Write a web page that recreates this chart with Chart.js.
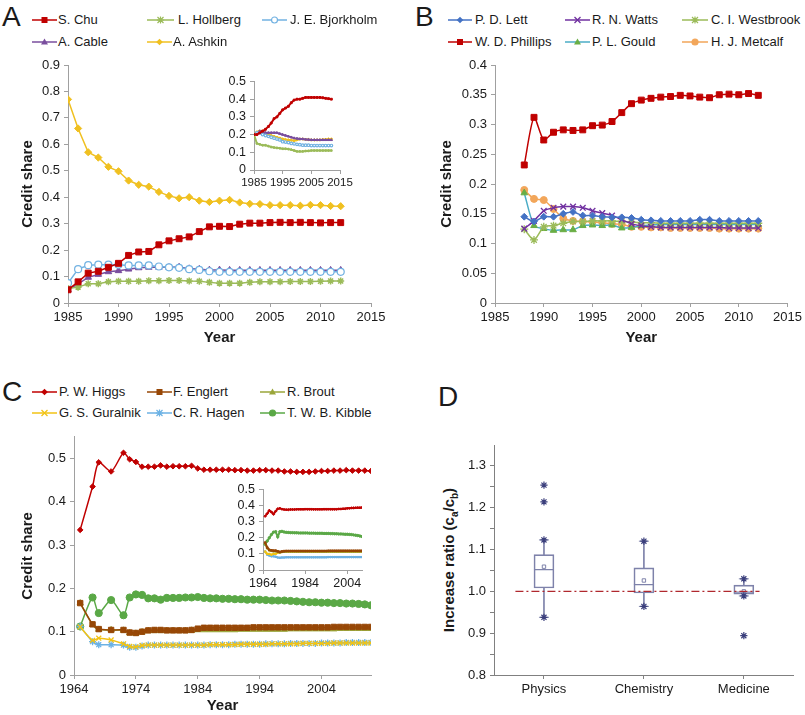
<!DOCTYPE html>
<html><head><meta charset="utf-8">
<script src="https://cdn.jsdelivr.net/npm/chart.js@4.4.1/dist/chart.umd.min.js"></script>
<style>
body{margin:0;background:#fff;width:805px;height:715px;position:relative;overflow:hidden;font-family:'Liberation Sans',Arial,sans-serif;color:#1a1a1a;}
canvas{position:absolute;}
.plbl{position:absolute;font-size:28px;line-height:28px;}
.lg{position:absolute;font-size:13px;line-height:14px;white-space:nowrap;}
.lgs{position:absolute;}
#dtitle{position:absolute;font-weight:bold;font-size:15px;white-space:nowrap;transform:translate(-50%,-50%) rotate(-90deg);left:450px;top:560px;}
#dtitle sub{font-size:10px;}
</style></head><body>
<div class="plbl" style="left:2px;top:3px">A</div>
<div class="plbl" style="left:415px;top:3px">B</div>
<div class="plbl" style="left:2px;top:378px">C</div>
<div class="plbl" style="left:438px;top:383px">D</div>
<div id="dtitle">Increase ratio (c<sub>a</sub>/c<sub>b</sub>)</div>
<script>
// ================= DATA =================
// Panel A
const aYears = [1985,1986,1987,1988,1989,1990,1991,1992,1993,1994,1995,1996,1997,1998,1999,2000,2001,2002,2003,2004,2005,2006,2007,2008,2009,2010,2011,2012];
const aXTicks = [1985,1990,1995,2000,2005,2010,2015];
const aYTicks = [0,0.1,0.2,0.3,0.4,0.5,0.6,0.7,0.8,0.9];
const aNames = ['S. Chu','L. Hollberg','J. E. Bjorkholm','A. Cable','A. Ashkin'];
const aChu = [0.050,0.080,0.113,0.120,0.135,0.150,0.180,0.193,0.195,0.220,0.235,0.243,0.250,0.270,0.288,0.290,0.289,0.298,0.302,0.302,0.304,0.305,0.304,0.305,0.304,0.303,0.304,0.304];
const aHollberg = [0.055,0.060,0.073,0.073,0.080,0.082,0.082,0.082,0.084,0.084,0.085,0.085,0.083,0.082,0.078,0.075,0.075,0.075,0.078,0.080,0.080,0.080,0.081,0.081,0.081,0.082,0.083,0.083];
const aBjorkholm = [0.075,0.128,0.143,0.145,0.145,0.145,0.142,0.142,0.142,0.138,0.135,0.133,0.128,0.125,0.120,0.118,0.118,0.118,0.118,0.118,0.118,0.118,0.118,0.118,0.118,0.118,0.118,0.118];
const aCable = [0.050,0.072,0.097,0.108,0.118,0.122,0.128,0.133,0.135,0.135,0.135,0.136,0.130,0.128,0.125,0.125,0.124,0.124,0.124,0.124,0.124,0.124,0.124,0.124,0.124,0.124,0.124,0.124];
const aAshkin = [0.770,0.660,0.570,0.550,0.515,0.498,0.463,0.447,0.440,0.420,0.405,0.396,0.400,0.387,0.382,0.387,0.390,0.380,0.375,0.374,0.370,0.370,0.370,0.368,0.371,0.370,0.367,0.366];
// Panel A inset
const aInXTicks = [1985,1995,2005,2015];
const aInYTicks = [0,0.1,0.2,0.3,0.4,0.5];
const aInChu = [0.200,0.200,0.210,0.220,0.230,0.245,0.265,0.290,0.300,0.320,0.340,0.350,0.360,0.380,0.395,0.400,0.400,0.405,0.410,0.410,0.410,0.410,0.410,0.410,0.408,0.405,0.403,0.400];
const aInHollberg = [0.200,0.150,0.145,0.140,0.140,0.135,0.130,0.127,0.125,0.123,0.120,0.120,0.118,0.115,0.110,0.105,0.105,0.105,0.107,0.108,0.110,0.110,0.110,0.110,0.110,0.110,0.110,0.110];
const aInBjorkholm = [0.200,0.210,0.210,0.200,0.195,0.190,0.185,0.180,0.175,0.170,0.160,0.158,0.155,0.150,0.148,0.145,0.143,0.140,0.140,0.140,0.138,0.138,0.138,0.138,0.138,0.138,0.138,0.138];
const aInCable = [0.200,0.210,0.220,0.215,0.210,0.210,0.210,0.210,0.210,0.205,0.200,0.195,0.190,0.185,0.180,0.178,0.175,0.175,0.173,0.172,0.170,0.170,0.170,0.170,0.170,0.170,0.170,0.170];
const aInAshkin = [0.200,0.215,0.220,0.220,0.210,0.200,0.195,0.190,0.185,0.180,0.175,0.172,0.170,0.168,0.165,0.170,0.175,0.175,0.173,0.172,0.170,0.170,0.170,0.170,0.172,0.173,0.175,0.175];

// Panel B
const bYears = [1988,1989,1990,1991,1992,1993,1994,1995,1996,1997,1998,1999,2000,2001,2002,2003,2004,2005,2006,2007,2008,2009,2010,2011,2012];
const bXTicks = [1985,1990,1995,2000,2005,2010,2015];
const bYTicks = [0,0.05,0.1,0.15,0.2,0.25,0.3,0.35,0.4];
const bNames = ['P. D. Lett','R. N. Watts','C. I. Westbrook','W. D. Phillips','P. L. Gould','H. J. Metcalf'];
const bLett = [0.145,0.137,0.145,0.145,0.150,0.153,0.147,0.147,0.145,0.144,0.144,0.143,0.140,0.139,0.138,0.138,0.138,0.138,0.140,0.140,0.138,0.138,0.138,0.138,0.138];
const bWatts = [0.125,0.138,0.155,0.160,0.162,0.162,0.160,0.155,0.151,0.147,0.140,0.133,0.130,0.128,0.127,0.127,0.127,0.127,0.127,0.127,0.127,0.126,0.126,0.126,0.126];
const bWestbrook = [0.124,0.106,0.128,0.130,0.134,0.137,0.137,0.138,0.138,0.138,0.137,0.136,0.135,0.135,0.134,0.134,0.134,0.134,0.134,0.134,0.134,0.134,0.134,0.134,0.134];
const bPhillips = [0.232,0.312,0.274,0.287,0.291,0.290,0.291,0.298,0.299,0.305,0.320,0.335,0.341,0.344,0.346,0.347,0.349,0.348,0.346,0.345,0.350,0.351,0.350,0.352,0.349];
const bGould = [0.185,0.130,0.125,0.122,0.123,0.123,0.130,0.131,0.130,0.131,0.126,0.127,0.130,0.131,0.132,0.132,0.132,0.132,0.132,0.132,0.132,0.132,0.132,0.132,0.132];
const bMetcalf = [0.190,0.175,0.173,0.158,0.142,0.138,0.137,0.136,0.135,0.133,0.132,0.128,0.128,0.127,0.127,0.126,0.126,0.126,0.126,0.126,0.125,0.125,0.125,0.125,0.125];

// Panel C
const cYears = [1965,1967,1968,1970,1972,1973,1974,1975,1976,1977,1978,1979,1980,1981,1982,1983,1984,1985,1986,1987,1988,1989,1990,1991,1992,1993,1994,1995,1996,1997,1998,1999,2000,2001,2002,2003,2004,2005,2006,2007,2008,2009,2010,2011,2012];
const cXTicks = [1964,1974,1984,1994,2004];
const cYTicks = [0,0.1,0.2,0.3,0.4,0.5];
const cNames = ['P. W. Higgs','F. Englert','R. Brout','G. S. Guralnik','C. R. Hagen','T. W. B. Kibble'];
const cHiggs = [0.335,0.435,0.491,0.470,0.513,0.498,0.492,0.481,0.481,0.481,0.484,0.481,0.482,0.482,0.482,0.483,0.477,0.474,0.474,0.474,0.474,0.474,0.473,0.473,0.472,0.472,0.473,0.473,0.472,0.472,0.470,0.470,0.469,0.469,0.469,0.470,0.471,0.471,0.472,0.472,0.473,0.472,0.472,0.472,0.471];
const cEnglert = [0.166,0.117,0.106,0.104,0.104,0.098,0.097,0.100,0.103,0.104,0.104,0.103,0.103,0.103,0.103,0.104,0.107,0.109,0.109,0.109,0.109,0.109,0.109,0.109,0.109,0.110,0.110,0.110,0.110,0.110,0.110,0.110,0.110,0.110,0.110,0.110,0.110,0.110,0.111,0.111,0.111,0.111,0.111,0.111,0.111];
const cBrout = [0.166,0.116,0.105,0.104,0.103,0.097,0.096,0.099,0.102,0.102,0.102,0.102,0.102,0.102,0.102,0.103,0.104,0.104,0.104,0.104,0.104,0.104,0.104,0.105,0.105,0.105,0.105,0.105,0.105,0.105,0.105,0.106,0.106,0.106,0.106,0.106,0.106,0.106,0.106,0.107,0.107,0.107,0.107,0.107,0.107];
const cGuralnik = [0.111,0.080,0.085,0.081,0.072,0.066,0.065,0.068,0.069,0.069,0.069,0.069,0.069,0.069,0.069,0.069,0.069,0.069,0.070,0.070,0.070,0.070,0.070,0.071,0.071,0.071,0.071,0.071,0.072,0.072,0.072,0.072,0.072,0.073,0.073,0.073,0.073,0.073,0.074,0.074,0.074,0.074,0.074,0.074,0.074];
const cHagen = [0.112,0.077,0.070,0.070,0.069,0.064,0.064,0.067,0.069,0.069,0.069,0.069,0.069,0.069,0.069,0.069,0.069,0.069,0.070,0.070,0.070,0.070,0.071,0.071,0.071,0.071,0.071,0.072,0.072,0.072,0.072,0.073,0.073,0.073,0.073,0.073,0.074,0.074,0.074,0.074,0.075,0.075,0.075,0.075,0.075];
const cKibble = [0.112,0.179,0.143,0.173,0.138,0.179,0.186,0.185,0.177,0.177,0.174,0.178,0.178,0.178,0.179,0.179,0.180,0.178,0.177,0.177,0.176,0.176,0.175,0.175,0.174,0.174,0.174,0.173,0.172,0.172,0.172,0.171,0.170,0.169,0.168,0.168,0.167,0.167,0.166,0.166,0.165,0.165,0.164,0.163,0.161];
// Panel C inset
const cInYears = [1965,1966,1967,1968,1969,1970,1971,1972,1973,1974,1975,1976,1977,1978,1979,1980,1981,1982,1983,1984,1985,1986,1987,1988,1989,1990,1991,1992,1993,1994,1995,1996,1997,1998,1999,2000,2001,2002,2003,2004,2005,2006,2007,2008,2009,2010,2011];
const cInXTicks = [1964,1984,2004];
const cInYTicks = [0,0.1,0.2,0.3,0.4,0.5];
const cInHiggs = [0.334,0.350,0.370,0.360,0.347,0.365,0.380,0.383,0.378,0.376,0.375,0.375,0.376,0.376,0.376,0.377,0.377,0.377,0.377,0.378,0.378,0.378,0.378,0.377,0.377,0.377,0.377,0.377,0.378,0.378,0.378,0.378,0.378,0.378,0.378,0.379,0.379,0.380,0.381,0.383,0.384,0.385,0.385,0.386,0.387,0.387,0.388];
const cInEnglert = [0.170,0.140,0.125,0.122,0.120,0.120,0.116,0.112,0.115,0.117,0.118,0.118,0.118,0.118,0.118,0.118,0.118,0.118,0.118,0.118,0.118,0.118,0.118,0.118,0.118,0.118,0.118,0.118,0.118,0.118,0.119,0.119,0.119,0.119,0.119,0.119,0.119,0.119,0.119,0.119,0.119,0.119,0.119,0.119,0.119,0.119,0.119];
const cInBrout = [0.165,0.135,0.122,0.118,0.116,0.116,0.112,0.109,0.112,0.114,0.115,0.115,0.115,0.115,0.115,0.115,0.115,0.115,0.115,0.115,0.115,0.115,0.115,0.115,0.115,0.115,0.115,0.115,0.115,0.115,0.115,0.115,0.115,0.115,0.115,0.115,0.115,0.115,0.115,0.115,0.115,0.115,0.115,0.115,0.115,0.115,0.115];
const cInGuralnik = [0.115,0.100,0.100,0.095,0.100,0.100,0.108,0.110,0.112,0.113,0.114,0.114,0.114,0.114,0.114,0.114,0.114,0.114,0.114,0.114,0.114,0.114,0.114,0.114,0.114,0.114,0.114,0.114,0.114,0.114,0.114,0.114,0.114,0.114,0.114,0.114,0.114,0.114,0.114,0.114,0.114,0.114,0.114,0.114,0.114,0.114,0.114];
const cInHagen = [0.115,0.095,0.090,0.085,0.085,0.082,0.078,0.076,0.078,0.078,0.079,0.079,0.079,0.079,0.079,0.079,0.079,0.079,0.079,0.079,0.079,0.079,0.079,0.079,0.079,0.079,0.079,0.079,0.079,0.079,0.080,0.080,0.080,0.080,0.080,0.080,0.080,0.080,0.080,0.080,0.080,0.080,0.080,0.080,0.080,0.080,0.080];
const cInKibble = [0.160,0.180,0.200,0.220,0.235,0.238,0.206,0.238,0.240,0.236,0.234,0.233,0.232,0.232,0.231,0.231,0.230,0.230,0.230,0.230,0.230,0.229,0.229,0.229,0.228,0.228,0.228,0.228,0.227,0.227,0.227,0.226,0.226,0.225,0.225,0.224,0.224,0.223,0.222,0.222,0.221,0.220,0.218,0.216,0.214,0.211,0.208];

// Panel D
const dCategories = ['Physics','Chemistry','Medicine'];
const dQ1 = [1.008,0.996,0.993];
const dQ3 = [1.088,1.056,1.015];
const dMedian = [1.052,1.016,0.998];
const dMean = [1.059,1.026,1.000];
const dWhiskerLow = [0.938,0.964,0.989];
const dWhiskerHigh = [1.123,1.120,1.030];
const dOutlierCats = ['Physics','Physics','Medicine'];
const dOutlierVals = [1.214,1.254,0.894];
const dRefValue = 1.0;
const dMajorTicks = [0.8,0.9,1.0,1.1,1.2,1.3];
const dMinorTicks = [0.85,0.95,1.05,1.15,1.25];

// ================= STYLES =================
const FONT = "'Liberation Sans', Arial, sans-serif";
Chart.defaults.font.family = FONT;
Chart.defaults.font.size = 13;
Chart.defaults.color = '#1a1a1a';
Chart.defaults.animation = false;
Chart.defaults.plugins.legend.display = false;
Chart.defaults.plugins.tooltip.enabled = false;
const AXIS = '#a0a0a0';

const aStyles = [
  {color:'#C00000', point:'rect', r:4.2},
  {color:'#9BBB59', point:'star', r:3.5, pbw:1.5},
  {color:'#72B2E2', point:'circle', r:3.5, fill:'#ffffff', pbw:1.2},
  {color:'#7A4E9E', point:'triangle', r:3.8},
  {color:'#F0C020', point:'rectRot', r:3.6}
];
const bStyles = [
  {color:'#4472C4', point:'rectRot', r:3.4},
  {color:'#7030A0', point:'crossRot', r:4, pbw:1.3},
  {color:'#9BBB59', point:'star', r:4, pbw:1.3},
  {color:'#C00000', point:'rect', r:4.2},
  {color:'#6AAE45', line:'#4BACC6', point:'triangle', r:3.8},
  {color:'#F2A65A', point:'circle', r:3.5}
];
const cStyles = [
  {color:'#C00000', point:'rectRot', r:2.8},
  {color:'#974706', point:'rect', r:3.8},
  {color:'#9AA63A', point:'triangle', r:3.6},
  {color:'#F2C314', point:'crossRot', r:3.5, pbw:1.3},
  {color:'#6CB2E4', point:'star', r:3.5, pbw:1.3},
  {color:'#5AA846', point:'circle', r:3.6}
];

function mkCanvas(l,t,w,h){
  const c=document.createElement('canvas');
  c.width=w;c.height=h;c.style.left=l+'px';c.style.top=t+'px';c.style.width=w+'px';c.style.height=h+'px';
  document.body.appendChild(c);return c;
}
function fmt(v){return String(+(+v).toFixed(3));}

function lineDs(years, vals, st, o){
  return {
    type:'line',
    data: years.map((x,i)=>({x:x, y:vals[i]})),
    borderColor: st.line || st.color,
    borderWidth: o.lw,
    pointStyle: st.point,
    pointRadius: o.r != null ? o.r : st.r,
    pointBackgroundColor: st.fill || st.color,
    pointBorderColor: st.color,
    pointBorderWidth: st.pbw || 1,
    tension: o.tension || 0,
    spanGaps: true,
    fill:false
  };
}

function linePanel(cfg){
  const cv = mkCanvas(cfg.c[0],cfg.c[1],cfg.c[2],cfg.c[3]);
  const yW = cfg.a[0]-cfg.c[0], xH = cfg.c[1]+cfg.c[3]-cfg.a[3];
  const padTop = cfg.a[1]-cfg.c[1], padRight = cfg.c[0]+cfg.c[2]-cfg.a[2];
  new Chart(cv,{
    type:'line',
    data:{datasets:cfg.datasets},
    options:{
      responsive:false, devicePixelRatio:1,
      layout:{padding:{left:0,top:padTop,right:padRight,bottom:0}},
      scales:{
        x:{type:'linear',min:cfg.xMin,max:cfg.xMax,
          afterBuildTicks:s=>{s.ticks=cfg.xTicks.map(v=>({value:v}));},
          afterFit:s=>{s.height=xH;},
          ticks:{autoSkip:false,maxRotation:0,padding:cfg.tickPad||3,callback:v=>String(v),font:{size:cfg.fsx||13},color:'#1a1a1a'},
          grid:{drawOnChartArea:false,color:AXIS,tickLength:4},
          border:{color:AXIS,width:1},
          title:{display:!!cfg.xTitle,text:cfg.xTitle||'',font:{size:15,weight:'bold'},color:'#1a1a1a',padding:{top:0,bottom:cfg.xTitlePad||0}}
        },
        y:{type:'linear',min:cfg.yMin,max:cfg.yMax,
          afterBuildTicks:s=>{s.ticks=cfg.yTicks.map(v=>({value:v}));},
          afterFit:s=>{s.width=yW;},
          ticks:{autoSkip:false,padding:4,callback:v=>fmt(v),font:{size:cfg.fsy||13},color:'#1a1a1a'},
          grid:{drawOnChartArea:false,color:AXIS,tickLength:4},
          border:{color:AXIS,width:1},
          title:{display:!!cfg.yTitle,text:cfg.yTitle||'',font:{size:15,weight:'bold'},color:'#1a1a1a',padding:{top:cfg.yTitlePad||0,bottom:0}}
        }
      }
    }
  });
}

// ---------- Panel A ----------
const aSeries = [aChu,aHollberg,aBjorkholm,aCable,aAshkin];
linePanel({c:[0,50,400,305], a:[68,65,371,303], xMin:1985,xMax:2015,yMin:0,yMax:0.9,
  xTicks:aXTicks,yTicks:aYTicks,xTitle:'Year',yTitle:'Credit share',xTitlePad:8,yTitlePad:19,
  datasets:aSeries.map((v,i)=>lineDs(aYears,v,aStyles[i],{lw:1.5}))});
const aInSeries = [aInChu,aInHollberg,aInBjorkholm,aInCable,aInAshkin];
linePanel({c:[200,70,160,125], a:[254,78,340,170], xMin:1985,xMax:2015,yMin:0,yMax:0.5,
  xTicks:aInXTicks,yTicks:aInYTicks,tickPad:2,fsx:11.5,fsy:12.5,
  datasets:aInSeries.map((v,i)=>lineDs(aYears,v,aStyles[i],{lw:2,r:1.3}))});

// ---------- Panel B ----------
const bSeries = [bLett,bWatts,bWestbrook,bPhillips,bGould,bMetcalf];
linePanel({c:[400,50,405,305], a:[495,65,790,303], xMin:1985,xMax:2015,yMin:0,yMax:0.4,
  xTicks:bXTicks,yTicks:bYTicks,xTitle:'Year',yTitle:'Credit share',xTitlePad:8,yTitlePad:38,
  datasets:bSeries.map((v,i)=>lineDs(bYears,v,bStyles[i],{lw:1.5,tension:0.25}))});

// ---------- Panel C ----------
const cSeries = [cHiggs,cEnglert,cBrout,cGuralnik,cHagen,cKibble];
linePanel({c:[0,425,400,290], a:[74,436,371,675], xMin:1964,xMax:2012,yMin:0,yMax:0.55,
  xTicks:cXTicks,yTicks:cYTicks,xTitle:'Year',yTitle:'Credit share',xTitlePad:0,yTitlePad:19,
  datasets:cSeries.map((v,i)=>lineDs(cYears,v,cStyles[i],{lw:1.5,tension:0.25}))});
const cInSeries = [cInHiggs,cInEnglert,cInBrout,cInGuralnik,cInHagen,cInKibble];
linePanel({c:[205,478,170,118], a:[263,487,362,570], xMin:1964,xMax:2011,yMin:0,yMax:0.5,
  xTicks:cInXTicks,yTicks:cInYTicks,tickPad:2,fsx:12.5,fsy:12.5,
  datasets:cInSeries.map((v,i)=>lineDs(cInYears,v,cStyles[i],{lw:2,r:1.2}))});

// ---------- Panel D ----------
(function(){
  const BOX='#7E82AA', STAR='#3B3F7C';
  const cv = mkCanvas(400,425,405,290);
  const c=[400,425,405,290], a=[494,445,796,675];
  const yW=a[0]-c[0], xH=c[1]+c[3]-a[3];
  const allTicks = dMajorTicks.concat(dMinorTicks).sort((p,q)=>p-q);
  const pts = arr => arr.map((v,i)=>({x:dCategories[i], y:v}));
  new Chart(cv,{
    type:'bar',
    data:{labels:dCategories, datasets:[
      {type:'line', xAxisID:'x2', data:[{x:0,y:dRefValue},{x:2.85,y:dRefValue}], borderColor:'#B0282E', borderWidth:1.3, borderDash:[8,3,2,3], pointRadius:0},
      {type:'line', data:pts(dWhiskerHigh).concat(pts(dWhiskerLow)), showLine:false, pointStyle:'star', pointRadius:3.6, pointBorderColor:STAR, pointBorderWidth:1.2},
      {type:'line', data:dOutlierCats.map((k,i)=>({x:k,y:dOutlierVals[i]})), showLine:false, pointStyle:'star', pointRadius:3.6, pointBorderColor:STAR, pointBorderWidth:1.2},
      {type:'line', data:pts(dWhiskerHigh).concat(pts(dWhiskerLow)), showLine:false, pointStyle:'line', pointRadius:5, pointBorderColor:BOX, pointBorderWidth:1},
      {type:'line', data:pts(dMedian), showLine:false, pointStyle:'line', pointRadius:10, pointBorderColor:BOX, pointBorderWidth:1.2},
      {type:'line', data:pts(dMean), showLine:false, pointStyle:'rect', pointRadius:2.4, pointBackgroundColor:'#ffffff', pointBorderColor:BOX, pointBorderWidth:1},
      {type:'bar', data:dQ1.map((v,i)=>[v,dQ3[i]]), backgroundColor:'rgba(255,255,255,0)', borderColor:BOX, borderWidth:1, borderSkipped:false, barThickness:20, grouped:false},
      {type:'bar', data:dWhiskerLow.map((v,i)=>[v,dQ1[i]]), backgroundColor:BOX, borderWidth:0, barThickness:1, grouped:false},
      {type:'bar', data:dQ3.map((v,i)=>[v,dWhiskerHigh[i]]), backgroundColor:BOX, borderWidth:0, barThickness:1, grouped:false}
    ]},
    options:{
      responsive:false, devicePixelRatio:1,
      layout:{padding:{left:0,top:a[1]-c[1],right:c[0]+c[2]-a[2],bottom:0}},
      scales:{
        x:{type:'category', offset:true,
          afterFit:s=>{s.height=xH;},
          ticks:{padding:3,maxRotation:0,font:{size:13},color:'#1a1a1a'},
          grid:{drawOnChartArea:false,offset:false,color:'#808080',tickLength:4},
          border:{color:'#808080',width:1}
        },
        x2:{type:'linear',display:false,min:0,max:3},
        y:{type:'linear',min:0.8,max:1.35,
          afterBuildTicks:s=>{s.ticks=allTicks.map(v=>({value:v}));},
          afterFit:s=>{s.width=yW;},
          ticks:{autoSkip:false,padding:4,font:{size:13},color:'#1a1a1a',
            callback:v=>dMajorTicks.some(m=>Math.abs(m-v)<1e-6)?(+v).toFixed(1):''},
          grid:{drawOnChartArea:false,color:'#808080',tickLength:4},
          border:{color:'#808080',width:1}
        }
      }
    }
  });
})();

// ---------- Legends (HTML) ----------
function markerSvg(st,cx,cy){
  const col=st.color, r=st.legR||3.3;
  switch(st.point){
    case 'rect': return `<rect x="${cx-3}" y="${cy-3}" width="6" height="6" fill="${col}"/>`;
    case 'rectRot': return `<polygon points="${cx},${cy-r} ${cx+r},${cy} ${cx},${cy+r} ${cx-r},${cy}" fill="${col}"/>`;
    case 'triangle': return `<polygon points="${cx},${cy-3.5} ${cx+3.5},${cy+2.5} ${cx-3.5},${cy+2.5}" fill="${col}"/>`;
    case 'circle': return `<circle cx="${cx}" cy="${cy}" r="3" fill="${st.fill||col}" stroke="${col}" stroke-width="1.2"/>`;
    case 'crossRot': return `<path d="M${cx-3},${cy-3}L${cx+3},${cy+3}M${cx+3},${cy-3}L${cx-3},${cy+3}" stroke="${col}" stroke-width="1.3"/>`;
    case 'star': return `<path d="M${cx-3},${cy-3}L${cx+3},${cy+3}M${cx+3},${cy-3}L${cx-3},${cy+3}M${cx},${cy-3.6}L${cx},${cy+3.6}M${cx-3.6},${cy}L${cx+3.6},${cy}" stroke="${col}" stroke-width="1.2"/>`;
  }
  return '';
}
function legend(names, styles, items){
  items.forEach((it,i)=>{
    const st=styles[i]; const w=it[1]-it[0];
    const s=document.createElementNS('http://www.w3.org/2000/svg','svg');
    s.setAttribute('width',w);s.setAttribute('height',14);s.setAttribute('class','lgs');
    s.style.left=it[0]+'px';s.style.top=(it[3]-7)+'px';
    s.innerHTML=`<line x1="0" y1="7" x2="${w}" y2="7" stroke="${st.line||st.color}" stroke-width="1.5"/>`+markerSvg(st,w/2,7);
    document.body.appendChild(s);
    const d=document.createElement('div');d.className='lg';d.textContent=names[i];
    d.style.left=it[2]+'px';d.style.top=(it[3]-7)+'px';document.body.appendChild(d);
  });
}
// [lineStart, lineEnd, textX, rowCenterY]
legend(aNames,aStyles,[[32,57,58,20],[147,174,178,20],[262,287,290,20],[32,57,58,42],[147,172,173,42]]);
legend(bNames,bStyles,[[448,472,475,20],[565,590,592,20],[682,708,711,20],[448,472,475,42],[565,590,592,42],[682,708,711,42]]);
legend(cNames,cStyles,[[32,57,59,392],[147,172,173,392],[260,285,287,392],[32,57,59,413],[147,172,173,413],[260,285,287,413]]);
</script>
</body></html>
